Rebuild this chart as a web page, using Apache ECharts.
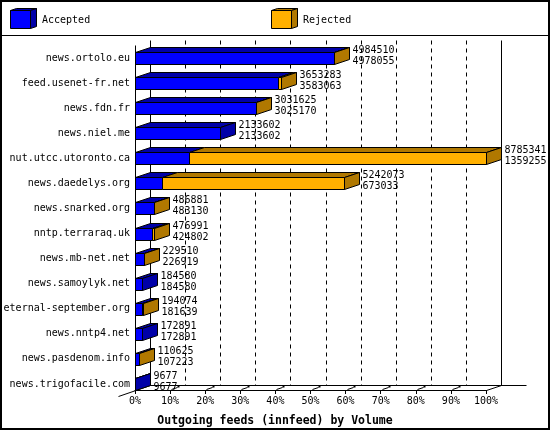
<!DOCTYPE html>
<html><head><meta charset="utf-8">
<script src="https://cdn.jsdelivr.net/npm/echarts@6/dist/echarts.min.js"></script>
<style>html,body{margin:0;padding:0;background:#fff}#c{width:550px;height:430px}</style>
</head><body><div id="c"></div>
<script>
const categories = ['news.ortolo.eu','feed.usenet-fr.net','news.fdn.fr','news.niel.me','nut.utcc.utoronto.ca','news.daedelys.org','news.snarked.org','nntp.terraraq.uk','news.mb-net.net','news.samoylyk.net','eternal-september.org','news.nntp4.net','news.pasdenom.info','news.trigofacile.com'];
const offered  = [4984510,3653283,3031625,2133602,8785341,5242073,486881,476991,229510,184580,194074,172891,110625,9677];
const accepted = [4978055,3583063,3025170,2133602,1359255,673033,483130,424802,226919,184580,181639,172891,107223,9677];
const tickPercents = [0,10,20,30,40,50,60,70,80,90,100];
const axisTitle = 'Outgoing feeds (innfeed) by Volume';
const legendNames = ['Accepted','Rejected'];

const FONT = 'DejaVu Sans Mono';
const DX = 15, DY = 5, HF = 6;
const BLUE = '#0000ff', BLUE_D = '#0000a8', ORG = '#ffb000', ORG_D = '#b07800';
const maxTotal = Math.max.apply(null, offered);

function box(x0, x1, yc, front, dark, side) {
  const yt = yc - HF + 0.5, yb = yc + HF + 0.5;
  const st = {stroke:'#000', lineWidth:1};
  const ch = [
    {type:'polygon', shape:{points:[[x0,yt],[x1,yt],[x1+DX,yt-DY],[x0+DX,yt-DY]]}, style:Object.assign({fill:dark}, st)},
    {type:'rect', shape:{x:x0, y:yt, width:x1-x0, height:yb-yt}, style:Object.assign({fill:front}, st)}
  ];
  if (side) ch.push({type:'polygon', shape:{points:[[x1,yt],[x1+DX,yt-DY],[x1+DX,yb-DY],[x1,yb]]}, style:Object.assign({fill:dark}, st)});
  return ch;
}

const chart = echarts.init(document.getElementById('c'), null, {renderer:'canvas'});
chart.setOption({
  animation:false,
  backgroundColor:'#fff',
  title:{text:axisTitle, left:'center', top:410, textStyle:{fontFamily:FONT, fontSize:11.5, fontWeight:'bold', color:'#000'}},
  grid:{left:135, right:64, top:45.5, bottom:33.5},
  xAxis:{type:'value', min:0, max:maxTotal, interval:maxTotal/10, offset:-6.5,
    axisLine:{show:true, lineStyle:{color:'#000', width:1}},
    axisTick:{show:true, length:4, lineStyle:{color:'#000'}},
    axisLabel:{margin:6, fontFamily:FONT, fontSize:10, color:'#000',
      formatter:v => Math.round(v / maxTotal * 100) + '%'},
    splitLine:{show:false}},
  yAxis:{type:'category', data:categories, inverse:true,
    axisLine:{show:false}, axisTick:{show:false},
    axisLabel:{margin:5, fontFamily:FONT, fontSize:10, color:'#000'}},
  series:[
    {name:legendNames[0], type:'custom', z:5,
     data:accepted.map((v,i)=>[v,i,offered[i]]), encode:{x:0, y:1},
     renderItem:function(params, api){
       const v = api.value(0), i = api.value(1), tot = api.value(2);
       const p0 = api.coord([0,i]), p1 = api.coord([v,i]);
       const x0 = Math.round(p0[0]) + 0.5, x1 = Math.round(p1[0]) + 0.5, yc = Math.round(p0[1]);
       return {type:'group', children: box(x0, x1, yc, BLUE, BLUE_D, v >= tot)};
     }},
    {name:legendNames[1], type:'custom', z:6,
     data:offered.map((v,i)=>[accepted[i],i,v]), encode:{x:[0,2], y:1},
     renderItem:function(params, api){
       const a = api.value(0), i = api.value(1), tot = api.value(2);
       const p0 = api.coord([a,i]), p1 = api.coord([tot,i]);
       const x0 = Math.round(p0[0]) + 0.5, x1 = Math.round(p1[0]) + 0.5, yc = Math.round(p0[1]);
       const ch = tot > a ? box(x0, x1, yc, ORG, ORG_D, true) : [];
       const tx = x1 + DX + 3;
       ch.push({type:'text', x:tx, y:yc-8, style:{text:String(tot), fill:'#000', font:'10px "'+FONT+'"', verticalAlign:'middle'}});
       ch.push({type:'text', x:tx, y:yc+3.5, style:{text:String(a), fill:'#000', font:'10px "'+FONT+'"', verticalAlign:'middle'}});
       return {type:'group', children: ch};
     }}
  ]
});

// frame drawn from the chart's own scales
const xp = p => chart.convertToPixel({xAxisIndex:0}, maxTotal * p / 100);
const frontY = Math.round(chart.convertToPixel({yAxisIndex:0}, categories.length - 1)) + HF + 0.5;
const backY = frontY - DY;
const topY = 40.5;
const X0 = Math.round(xp(0)) + 0.5, X100 = Math.round(xp(100)) + 0.5;
const g = [];
const L = (x1,y1,x2,y2,extra) => g.push(Object.assign({type:'line', z:0, silent:true, shape:{x1,y1,x2,y2}, style:{stroke:'#000', lineWidth:1}}, extra||{}));
// outer border and legend separator
g.push({type:'rect', z:20, silent:true, shape:{x:1,y:1,width:548,height:428}, style:{fill:null, stroke:'#000', lineWidth:2}});
L(0,35.5,550,35.5);
// walls
L(X0, topY+DY, X0, frontY);
L(X0+DX, topY, X0+DX, backY);
L(X100+DX, topY, X100+DX, backY);
L(X0+DX, backY, X100+DX+25, backY);
L(X100, frontY, X100+DX, backY);
L(X0-17, frontY+6, X0+DX, backY);
// dashed grid on back wall and small back ticks
tickPercents.forEach(p => {
  const xf = Math.round(xp(p)) + 0.5;
  if (p > 0 && p < 100) {
    L(xf+DX, topY, xf+DX, backY, {style:{stroke:'#000', lineWidth:1, lineDash:[4,4]}});
  }
  if (p > 0 && p < 100) {
    L(xf+1, frontY-1, xf+7, backY+2);
    g.push({type:'rect', z:0, silent:true, shape:{x:xf+7, y:backY, width:2, height:2}, style:{fill:'#000'}});
  }
});
// legend
function legendBox(x, front, dark) {
  const y = 10.5, w = 20, h = 18, dx = 6, dy = 2;
  const st = {stroke:'#000', lineWidth:1};
  g.push({type:'polygon', z:10, shape:{points:[[x,y],[x+w,y],[x+w+dx,y-dy],[x+dx,y-dy]]}, style:Object.assign({fill:dark}, st)});
  g.push({type:'polygon', z:10, shape:{points:[[x+w,y],[x+w+dx,y-dy],[x+w+dx,y+h-dy],[x+w,y+h]]}, style:Object.assign({fill:dark}, st)});
  g.push({type:'rect', z:10, shape:{x:x, y:y, width:w, height:h}, style:Object.assign({fill:front}, st)});
}
legendBox(10.5, BLUE, BLUE_D);
legendBox(271.5, ORG, ORG_D);
g.push({type:'text', z:10, x:42, y:20, style:{text:legendNames[0], fill:'#000', font:'10px "'+FONT+'"', verticalAlign:'middle'}});
g.push({type:'text', z:10, x:303, y:20, style:{text:legendNames[1], fill:'#000', font:'10px "'+FONT+'"', verticalAlign:'middle'}});
chart.setOption({graphic:{elements:g}});
</script></body></html>
